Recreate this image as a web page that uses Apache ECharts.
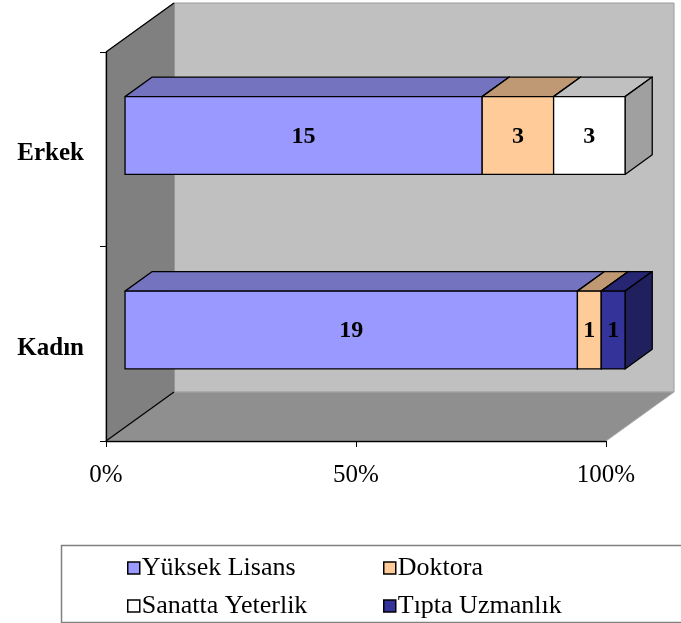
<!DOCTYPE html>
<html>
<head>
<meta charset="utf-8">
<script src="https://cdn.jsdelivr.net/npm/echarts@6/dist/echarts.min.js"></script>
<style>
  html, body { margin: 0; padding: 0; background: #fff; }
  #chart { width: 681px; height: 623px; }
</style>
</head>
<body>
<div id="chart"></div>
<script>
// kategoriler (alttan üste)
var categories = ['Kadın', 'Erkek'];
var seriesNames = ['Yüksek Lisans', 'Doktora', 'Sanatta Yeterlik', 'Tıpta Uzmanlık'];
var yuksekLisans = [19, 15];
var doktora = [1, 3];
var sanattaYeterlik = [0, 3];
var tiptaUzmanlik = [1, 0];
var xTickLabels = ['0%', '50%', '100%'];

// ön yüz, üst yüz, yan yüz renkleri
var frontColors = ['#9999FF', '#FFCC99', '#FFFFFF', '#333399'];
var topColors = ['#7373BF', '#BF9973', '#C0C0C0', '#262673'];
var sideColors = ['#7373BF', '#BF9973', '#A0A0A0', '#20205E'];

var DEPTH = [68, -49];   // 3B derinlik
var F0 = 0.28, F1 = 0.68; // çubuğun derinlik içindeki konumu
var FONT = '"Liberation Serif", "Times New Roman", serif';

var allValues = [yuksekLisans, doktora, sanattaYeterlik, tiptaUzmanlik];
var totals = categories.map(function (c, i) {
  var t = 0;
  allValues.forEach(function (arr) { t += arr[i]; });
  return t;
});

function buildData(k) {
  var out = [];
  categories.forEach(function (c, i) {
    var before = 0;
    for (var j = 0; j < k; j++) before += allValues[j][i];
    var v = allValues[k][i];
    out.push([before / totals[i], (before + v) / totals[i], i, v]);
  });
  return out;
}

function makeRender(k) {
  return function (params, api) {
    var v = api.value(3);
    if (!v) return null;
    var cat = api.value(2);
    var p0 = api.coord([api.value(0), cat]);
    var p1 = api.coord([api.value(1), cat]);
    var h = api.size([0, 1])[1] * 0.4;
    var fx = DEPTH[0] * F0, fy = DEPTH[1] * F0;
    var dx = DEPTH[0] * (F1 - F0), dy = DEPTH[1] * (F1 - F0);
    var x0 = p0[0] + fx, x1 = p1[0] + fx;
    var yT = p0[1] - h / 2 + fy, yB = p0[1] + h / 2 + fy;
    var st = { stroke: '#000', lineWidth: 1.3, lineJoin: 'round' };
    return {
      type: 'group',
      children: [
        { type: 'polygon', shape: { points: [[x0, yT], [x0 + dx, yT + dy], [x1 + dx, yT + dy], [x1, yT]] },
          style: Object.assign({ fill: topColors[k] }, st) },
        { type: 'polygon', shape: { points: [[x1, yT], [x1 + dx, yT + dy], [x1 + dx, yB + dy], [x1, yB]] },
          style: Object.assign({ fill: sideColors[k] }, st) },
        { type: 'rect', shape: { x: x0, y: yT, width: x1 - x0, height: h },
          style: Object.assign({ fill: frontColors[k] }, st) },
        { type: 'text', x: (x0 + x1) / 2, y: (yT + yB) / 2 + 1,
          style: { text: String(v), fill: '#000', font: 'bold 24px ' + FONT, align: 'center', verticalAlign: 'middle' } }
      ]
    };
  };
}

function renderWalls(params, api) {
  var cs = params.coordSys;
  var L = cs.x, T = cs.y, R = cs.x + cs.width, B = cs.y + cs.height;
  var dx = DEPTH[0], dy = DEPTH[1];
  return {
    type: 'group',
    children: [
      { type: 'polygon', shape: { points: [[L + dx, T + dy], [R + dx, T + dy], [R + dx, B + dy], [L + dx, B + dy]] },
        style: { fill: '#C0C0C0', stroke: '#9a9a9a', lineWidth: 1 } },
      { type: 'polygon', shape: { points: [[L, T], [L + dx, T + dy], [L + dx, B + dy], [L, B]] },
        style: { fill: '#808080', stroke: '#808080', lineWidth: 1 } },
      { type: 'polygon', shape: { points: [[L, B], [L + dx, B + dy], [R + dx, B + dy], [R, B]] },
        style: { fill: '#8F8F8F', stroke: '#a8a8a8', lineWidth: 1 } },
      { type: 'polyline', shape: { points: [[L, T], [L + dx, T + dy]] }, style: { stroke: '#000', lineWidth: 1.3 } },
      { type: 'polyline', shape: { points: [[L, B], [L + dx, B + dy]] }, style: { stroke: '#000', lineWidth: 1.3 } }
    ]
  };
}

var chart = echarts.init(document.getElementById('chart'));

var series = [{
  type: 'custom',
  name: 'walls',
  silent: true,
  z: 1,
  renderItem: renderWalls,
  data: [[0, 0]]
}];
seriesNames.forEach(function (n, k) {
  series.push({
    type: 'custom',
    name: n,
    z: 3,
    itemStyle: { color: frontColors[k] },
    renderItem: makeRender(k),
    encode: { x: [0, 1], y: 2 },
    data: buildData(k)
  });
});

function legendItems(idx) {
  return idx.map(function (k) {
    return { name: seriesNames[k], icon: 'rect', itemStyle: { color: frontColors[k], borderColor: '#000', borderWidth: 1.5 } };
  });
}

var legendCommon = {
  orient: 'vertical',
  top: 555,
  height: 66,
  padding: 0,
  itemWidth: 12,
  itemHeight: 12,
  itemGap: 12,
  selectedMode: false,
  textStyle: { fontFamily: FONT, fontSize: 26, color: '#000', padding: [0, 0, 0, -3], lineHeight: 24 }
};

var option = {
  animation: false,
  backgroundColor: '#fff',
  grid: { left: 106, top: 52, width: 500, height: 389 },
  xAxis: {
    type: 'value',
    min: 0, max: 1, interval: 0.5,
    z: 5,
    splitLine: { show: false },
    axisLine: { show: true, lineStyle: { color: '#000', width: 1.3 } },
    axisTick: { show: true, length: 6, lineStyle: { color: '#000' } },
    axisLabel: {
      margin: 22,
      fontFamily: FONT, fontSize: 25, color: '#000',
      formatter: function (val) { return xTickLabels[Math.round(val * 2)]; }
    }
  },
  yAxis: {
    type: 'category',
    data: categories,
    z: 5,
    axisLine: { show: true, lineStyle: { color: '#000', width: 1.3 } },
    axisTick: { show: true, length: 6, lineStyle: { color: '#000' } },
    axisLabel: {
      margin: 22,
      formatter: function (v) { return '{c|' + v + '}'; },
      rich: {
        c: { fontFamily: FONT, fontSize: 25, fontWeight: 'bold', color: '#000', padding: [9, 0, 0, 0] }
      }
    }
  },
  legend: [
    Object.assign({ left: 127, data: legendItems([0, 2]) }, legendCommon),
    Object.assign({ left: 383, data: legendItems([1, 3]) }, legendCommon)
  ],
  graphic: [{
    type: 'rect',
    left: 59, top: 543,
    shape: { width: 640, height: 77 },
    style: { fill: 'none', stroke: '#808080', lineWidth: 1.5 },
    silent: true
  }],
  series: series
};

chart.setOption(option);
</script>
</body>
</html>
